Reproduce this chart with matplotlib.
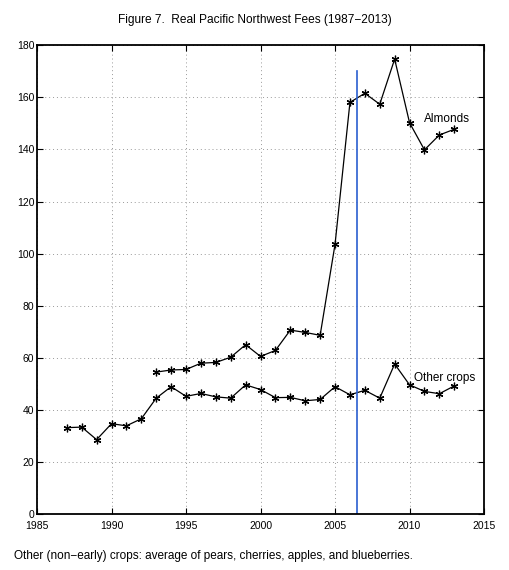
import matplotlib
matplotlib.use("Agg")
import matplotlib.pyplot as plt

# Donnees
annees_autres = list(range(1987, 2014))
autres = [33.3, 33.5, 28.7, 34.8, 34.0, 36.7, 44.6, 49.0, 45.3, 46.4, 45.1, 44.6,
          49.7, 47.9, 44.8, 44.9, 43.6, 44.1, 49.0, 45.9, 47.6, 44.6, 57.7, 49.7,
          47.2, 46.3, 49.3]

annees_amandes = list(range(1993, 2014))
amandes = [54.6, 55.4, 55.6, 58.0, 58.3, 60.3, 65.1, 60.6, 62.9, 70.7, 69.8, 68.7,
           103.6, 158.0, 161.5, 157.3, 174.6, 150.2, 139.8, 145.5, 147.7]

ligne_verticale = 2006.5
x_ticks = [1985, 1990, 1995, 2000, 2005, 2010, 2015]
y_ticks = [0, 20, 40, 60, 80, 100, 120, 140, 160, 180]

plt.rcParams['font.family'] = ['Liberation Sans', 'DejaVu Sans']

fig = plt.figure(figsize=(5.09, 5.70), dpi=100)
ax = fig.add_axes([0.0727, 0.0974, 0.8783, 0.8236])

# Courbes (marqueur asterisque facon MATLAB)
asterisque = (6, 2, 0)
ax.plot(annees_amandes, amandes, color='black', linewidth=0.9, marker=asterisque,
        markersize=5.5, markeredgewidth=0.9)
ax.plot(annees_autres, autres, color='black', linewidth=0.9, marker=asterisque,
        markersize=5.5, markeredgewidth=0.9)

# Ligne verticale bleue
ax.plot([ligne_verticale, ligne_verticale], [0, 170], color='#2a5fd0', linewidth=1.2)

ax.text(2011.0, 151.5, "Almonds", fontsize=8.5, va='center', ha='left')
ax.text(2010.3, 52.5, "Other crops", fontsize=8.5, va='center', ha='left')

ax.set_xlim(1985, 2015)
ax.set_ylim(0, 180)
ax.set_xticks(x_ticks)
ax.set_yticks(y_ticks)
ax.tick_params(direction='in', labelsize=7.5, length=4, top=True, right=True,
               width=0.8)
ax.tick_params(axis='x', pad=4.5)
ax.tick_params(axis='y', pad=2)

ax.grid(True, linestyle=(0, (1, 3)), color='#999999', linewidth=0.7)
for s in ax.spines.values():
    s.set_linewidth(1.3)

fig.text(0.5, 0.965, "Figure 7.  Real Pacific Northwest Fees (1987\u22122013)",
         ha='center', va='center', fontsize=8.6)
fig.text(0.027, 0.025, "Other (non\u2212early) crops: average of pears, cherries, apples, and blueberries.",
         ha='left', va='center', fontsize=8.5)

fig.savefig("out.png", dpi=100)
